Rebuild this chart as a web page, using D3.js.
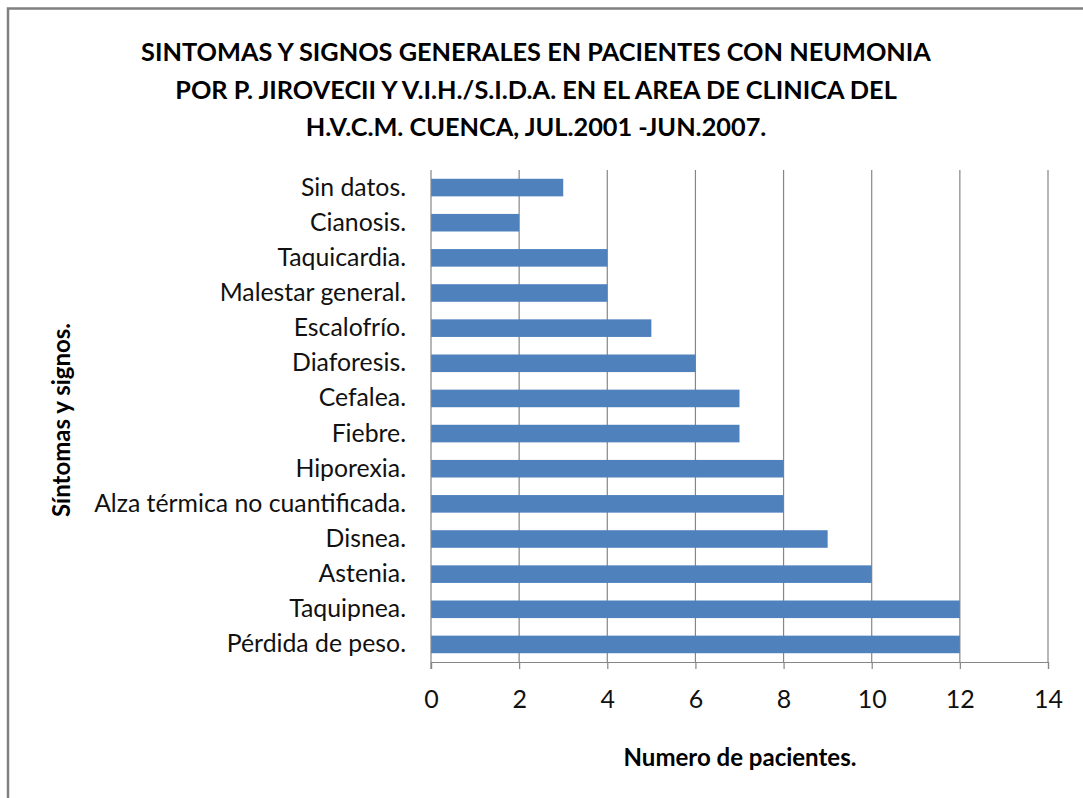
<!DOCTYPE html>
<html>
<head>
<meta charset="utf-8">
<script src="https://cdn.jsdelivr.net/npm/d3@7"></script>
<style>
  body { margin: 0; background: #fff; }
  svg { font-family: Lato, "Open Sans", sans-serif; }
</style>
</head>
<body>
<svg width="1083" height="798"></svg>
<script>
// data
const categories = [
  "Sin datos.", "Cianosis.", "Taquicardia.", "Malestar general.", "Escalofrío.",
  "Diaforesis.", "Cefalea.", "Fiebre.", "Hiporexia.", "Alza térmica no cuantificada.",
  "Disnea.", "Astenia.", "Taquipnea.", "Pérdida de peso."
];
const values = [3, 2, 4, 4, 5, 6, 7, 7, 8, 8, 9, 10, 12, 12];
const xTicks = [0, 2, 4, 6, 8, 10, 12, 14];
const titleLines = [
  "SINTOMAS Y SIGNOS GENERALES EN PACIENTES CON NEUMONIA",
  "POR P. JIROVECII Y V.I.H./S.I.D.A. EN EL AREA DE CLINICA DEL",
  "H.V.C.M. CUENCA, JUL.2001 -JUN.2007."
];

const svg = d3.select("svg");
const width = +svg.attr("width");
const height = +svg.attr("height");

// outer frame
svg.append("rect")
  .attr("x", 8).attr("y", 8.5)
  .attr("width", width + 10).attr("height", height + 10)
  .attr("fill", "#fff")
  .attr("stroke", "#808080")
  .attr("stroke-width", 2.5);

const margin = { left: 431, right: width - 1048, top: 170, bottom: height - 662 };

const x = d3.scaleLinear()
  .domain([0, 14])
  .range([margin.left, width - margin.right]);

const y = d3.scaleBand()
  .domain(categories)
  .range([margin.top, height - margin.bottom])
  .paddingInner(0.5)
  .paddingOuter(0.25);

// gridlines
svg.append("g")
  .selectAll("line")
  .data(xTicks.filter(d => d > 0))
  .enter().append("line")
    .attr("x1", d => x(d)).attr("x2", d => x(d))
    .attr("y1", margin.top).attr("y2", height - margin.bottom)
    .attr("stroke", "#868686")
    .attr("stroke-width", 1.2);

// bars
svg.append("g")
  .selectAll("rect")
  .data(values)
  .enter().append("rect")
    .attr("x", x(0))
    .attr("y", (d, i) => y(categories[i]))
    .attr("width", d => x(d) - x(0))
    .attr("height", y.bandwidth())
    .attr("fill", "#4f81bd");

// x axis
const xAxis = svg.append("g")
  .attr("transform", `translate(0,${height - margin.bottom})`)
  .call(d3.axisBottom(x).tickValues(xTicks).tickSize(7).tickPadding(21));
xAxis.select(".domain").attr("stroke", "#868686").attr("stroke-width", 1.2);
xAxis.selectAll(".tick line").attr("stroke", "#868686").attr("stroke-width", 1.2);
xAxis.selectAll(".tick text")
  .attr("font-size", 25)
  .attr("font-family", "Lato, sans-serif")
  .attr("fill", "#111");

// y axis
const yAxis = svg.append("g")
  .attr("transform", `translate(${margin.left},0)`)
  .call(d3.axisLeft(y).tickSize(0).tickPadding(25));
yAxis.select(".domain").attr("stroke", "#868686").attr("stroke-width", 1.2)
  .attr("d", `M0,${margin.top}V${height - margin.bottom + 7}`);
yAxis.selectAll(".tick text")
  .attr("font-size", 24.8)
  .attr("font-family", "Lato, sans-serif")
  .attr("fill", "#111");

// title
svg.append("text")
  .attr("text-anchor", "middle")
  .attr("font-size", 25.3)
  .attr("font-weight", "bold")
  .attr("fill", "#000")
  .selectAll("tspan")
  .data(titleLines)
  .enter().append("tspan")
    .attr("x", 536)
    .attr("y", (d, i) => 61 + i * 37.5)
    .text(d => d);

// axis titles
svg.append("text")
  .attr("x", 740).attr("y", 766)
  .attr("text-anchor", "middle")
  .attr("font-size", 24)
  .attr("font-weight", "bold")
  .attr("fill", "#000")
  .text("Numero de pacientes.");

svg.append("text")
  .attr("transform", "translate(70,420) rotate(-90)")
  .attr("text-anchor", "middle")
  .attr("font-size", 24)
  .attr("font-weight", "bold")
  .attr("fill", "#000")
  .text("Síntomas y signos.");
</script>
</body>
</html>
